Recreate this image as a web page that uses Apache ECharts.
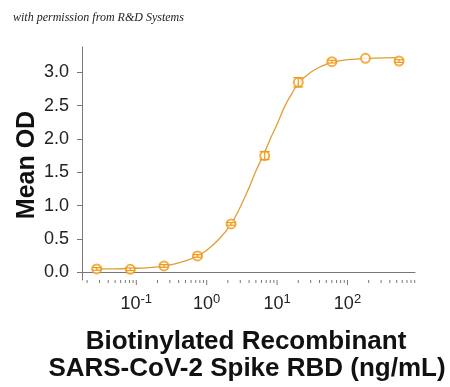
<!DOCTYPE html>
<html>
<head>
<meta charset="utf-8">
<script src="https://cdn.jsdelivr.net/npm/echarts@6/dist/echarts.min.js"></script>
<style>
html,body{margin:0;padding:0;background:#fff;}
#chart{width:450px;height:387px;}
</style>
</head>
<body>
<div id="chart"></div>
<script>
// Data
const doseNgMl = [0.0274, 0.0823, 0.247, 0.741, 2.22, 6.67, 20, 60, 180, 540];
const meanOD = [0.050, 0.045, 0.095, 0.245, 0.725, 1.75, 2.85, 3.16, 3.21, 3.17];
const errOD = [0.02, 0.02, 0.02, 0.02, 0.02, 0.06, 0.07, 0.02, 0.0, 0.02];

// fitted curve, points
const curveX = [0.0274, 0.05, 0.1, 0.2, 0.3, 0.5, 0.75, 1, 1.5, 2.2, 3, 4, 5, 6.67, 8, 10, 13, 16, 20, 30, 45, 60, 100, 200, 540];
const curveY = [0.05, 0.052, 0.06, 0.08, 0.11, 0.17, 0.25, 0.33, 0.5, 0.72, 0.98, 1.27, 1.52, 1.80, 2.0, 2.22, 2.5, 2.67, 2.83, 3.0, 3.1, 3.15, 3.19, 3.21, 3.22];

const yTicks = [0, 0.5, 1.0, 1.5, 2.0, 2.5, 3.0];
const xMajorTicks = [0.1, 1, 10, 100];
const xExpLabels = {0.1: '-1', 1: '0', 10: '1', 100: '2'};

const X_MIN = 0.01694, X_MAX = 910, Y_MIN = -0.116, Y_MAX = 3.38;

// minor tick positions (2..9 x decade) for the log axis
const xMinorTicks = [];
for (let e = -2; e <= 2; e++) {
  for (let m = 2; m <= 9; m++) {
    const v = m * Math.pow(10, e);
    if (v > X_MIN && v < X_MAX) xMinorTicks.push(v);
  }
}

const markerColor = '#F09A1A';
const lineColor = '#E19E35';

const chart = echarts.init(document.getElementById('chart'));
chart.setOption({
  animation: false,
  backgroundColor: '#fff',
  grid: {left: 82, right: 35, top: 47, bottom: 107, containLabel: false},
  title: {
    text: 'with permission from R&D Systems',
    left: 8, top: 7,
    textStyle: {fontFamily: 'Liberation Serif', fontStyle: 'italic', fontWeight: 'normal', fontSize: 12, color: '#222'}
  },
  xAxis: {
    type: 'log', logBase: 10, min: X_MIN, max: X_MAX,
    axisLine: {show: true, lineStyle: {color: '#777', width: 1}},
    axisTick: {show: false},
    splitLine: {show: false},
    axisLabel: {
      margin: 13,
      showMinLabel: false, showMaxLabel: false,
      formatter: function (v) {
        for (const t of xMajorTicks) {
          if (Math.abs(v - t) / t < 1e-6) return '{b|10}{s|' + xExpLabels[t] + '}';
        }
        return '';
      },
      rich: {
        b: {fontFamily: 'Liberation Sans', fontSize: 18, color: '#222'},
        s: {fontFamily: 'Liberation Sans', fontSize: 13, color: '#222', padding: [0, 0, 10, 0]}
      }
    }
  },
  yAxis: {
    type: 'value', min: Y_MIN, max: Y_MAX,
    axisLine: {show: true, lineStyle: {color: '#777', width: 1}},
    axisTick: {show: true, customValues: yTicks, length: 5, lineStyle: {color: '#777'}},
    splitLine: {show: false},
    axisLabel: {
      customValues: yTicks, margin: 13,
      formatter: v => v.toFixed(1),
      fontFamily: 'Liberation Sans', fontSize: 18, color: '#222'
    }
  },
  graphic: [
    {type: 'text', x: 27, y: 165, rotation: Math.PI / 2,
     style: {text: 'Mean OD', x: 0, y: 0, font: 'bold 25px "Liberation Sans"', fill: '#111', textAlign: 'center', textVerticalAlign: 'middle'}},
    {type: 'text', style: {text: 'Biotinylated Recombinant', x: 246, y: 342, font: 'bold 26px "Liberation Sans"', fill: '#111', textAlign: 'center', textVerticalAlign: 'middle'}},
    {type: 'text', style: {text: 'SARS-CoV-2 Spike RBD (ng/mL)', x: 247, y: 369, font: 'bold 26px "Liberation Sans"', fill: '#111', textAlign: 'center', textVerticalAlign: 'middle'}}
  ],
  series: [
    {
      type: 'custom', silent: true,
      data: [[1, 0]],
      renderItem: function (params, api) {
        const children = [];
        xMinorTicks.forEach(v => {
          const p = api.coord([v, Y_MIN]);
          children.push({type: 'line', shape: {x1: p[0], y1: p[1], x2: p[0], y2: p[1] + 3}, style: {stroke: '#777', lineWidth: 1}});
        });
        xMajorTicks.forEach(v => {
          const p = api.coord([v, Y_MIN]);
          children.push({type: 'line', shape: {x1: p[0], y1: p[1], x2: p[0], y2: p[1] + 5}, style: {stroke: '#777', lineWidth: 1}});
        });
        return {type: 'group', children: children};
      }
    },
    {
      type: 'line', smooth: true, showSymbol: false, silent: true,
      data: curveX.map((x, i) => [x, curveY[i]]),
      lineStyle: {color: lineColor, width: 1.3}
    },
    {
      type: 'scatter', silent: true,
      data: doseNgMl.map((x, i) => [x, meanOD[i]]),
      symbol: 'emptyCircle', symbolSize: 9,
      itemStyle: {color: markerColor, borderColor: markerColor, borderWidth: 1.3},
      z: 3
    },
    {
      type: 'custom', silent: true,
      data: doseNgMl.map((x, i) => [x, meanOD[i], errOD[i]]),
      renderItem: function (params, api) {
        const x = api.value(0), y = api.value(1), e = api.value(2);
        if (!e) return null;
        const hi = api.coord([x, y + e]);
        const lo = api.coord([x, y - e]);
        const w = 5;
        const st = {stroke: markerColor, lineWidth: 1.2};
        return {type: 'group', children: [
          {type: 'line', shape: {x1: hi[0], y1: hi[1], x2: lo[0], y2: lo[1]}, style: st},
          {type: 'line', shape: {x1: hi[0] - w, y1: hi[1], x2: hi[0] + w, y2: hi[1]}, style: st},
          {type: 'line', shape: {x1: lo[0] - w, y1: lo[1], x2: lo[0] + w, y2: lo[1]}, style: st}
        ]};
      },
      z: 4
    }
  ]
});
</script>
</body>
</html>
